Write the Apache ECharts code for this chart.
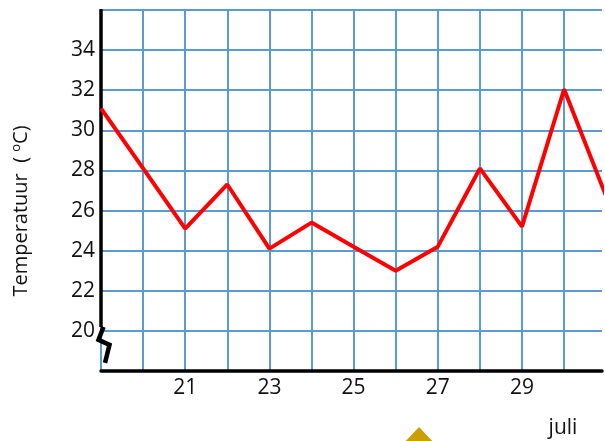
<!DOCTYPE html>
<html><head><meta charset="utf-8">
<script src="https://cdn.jsdelivr.net/npm/echarts@6/dist/echarts.min.js"></script>
<style>html,body{margin:0;padding:0;background:#fff}#c{width:605px;height:441px}</style>
</head><body><div id="c"></div>
<script>
const days = [19, 20, 21, 22, 23, 24, 25, 26, 27, 28, 29, 30, 31];
const temps = [31.1, 28.1, 25.1, 27.3, 24.1, 25.4, 24.2, 23.0, 24.2, 28.1, 25.2, 32.05, 26.7];
const xTickLabels = [21, 23, 25, 27, 29];
const yTickLabels = [20, 22, 24, 26, 28, 30, 32, 34];
const yTitle = 'Temperatuur  ( ';
const yUnit = 'C)';
const monthLabel = 'juli';

const FONT = 'Open Sans';
const chart = echarts.init(document.getElementById('c'), null, {renderer: 'canvas'});
const lineData = days.map((d, i) => [d, temps[i]]);

chart.setOption({
  animation: false,
  backgroundColor: '#fff',
  grid: {left: 101, right: 0, top: 10, bottom: 70, containLabel: false},
  xAxis: {
    type: 'value', min: 19, max: 30.9, interval: 1,
    axisLine: {show: true, lineStyle: {color: '#000', width: 3.5}},
    axisTick: {show: false},
    splitLine: {show: true, showMaxLine: false, lineStyle: {color: '#5B9BD5', width: 2}},
    axisLabel: {
      margin: 7, color: '#111', fontFamily: FONT, fontSize: 21,
      formatter: v => xTickLabels.includes(v) ? String(v) : ''
    }
  },
  yAxis: {
    type: 'value', min: 18, max: 36, interval: 2,
    axisLine: {show: false},
    axisTick: {show: false},
    splitLine: {show: true, lineStyle: {color: '#5B9BD5', width: 2}},
    axisLabel: {
      margin: 6, color: '#111', fontFamily: FONT, fontSize: 21, padding: [0, 0, 6, 0],
      formatter: v => yTickLabels.includes(v) ? String(v) : ''
    }
  },
  series: [
    {
      type: 'line', data: [[19, 36.05], [19, 20.2]], clip: false, symbol: 'none',
      lineStyle: {color: '#000', width: 3.5}, z: 3, silent: true
    },
    {
      type: 'line', data: lineData, symbol: 'none', clip: true,
      lineStyle: {color: '#FF0000', width: 4}, z: 5
    }
  ]
});

const p = chart.convertToPixel({xAxisIndex: 0, yAxisIndex: 0}, [19, 20]);
const bx = p[0], by = p[1];
chart.setOption({
  graphic: [
    {
      type: 'polyline', z: 10,
      shape: {points: [[bx + 2.5, by - 4], [bx - 2.5, by + 9], [bx + 8.5, by + 14], [bx + 4, by + 32]]},
      style: {stroke: '#000', lineWidth: 4.5, fill: null, lineJoin: 'miter'}
    },
    {
      type: 'polygon', z: 10,
      shape: {points: [[419, 427], [403, 444], [435, 444]]},
      style: {fill: '#C9A000'}
    },
    {
      type: 'text', z: 10, x: 563, y: 428,
      style: {text: monthLabel, font: '21px "' + FONT + '"', fill: '#111', align: 'center', verticalAlign: 'middle'}
    },
    {
      type: 'text', z: 10, x: 21, y: 211, rotation: Math.PI / 2,
      style: {
        text: '{a|' + yTitle + '}{s|o}{a|' + yUnit + '}',
        align: 'center', verticalAlign: 'middle',
        rich: {
          a: {fontFamily: FONT, fontSize: 20, fill: '#111', color: '#111'},
          s: {fontFamily: FONT, fontSize: 13, fill: '#111', color: '#111', verticalAlign: 'top', padding: [0, 0, 9, 0]}
        }
      }
    }
  ]
});
</script>
</body></html>
